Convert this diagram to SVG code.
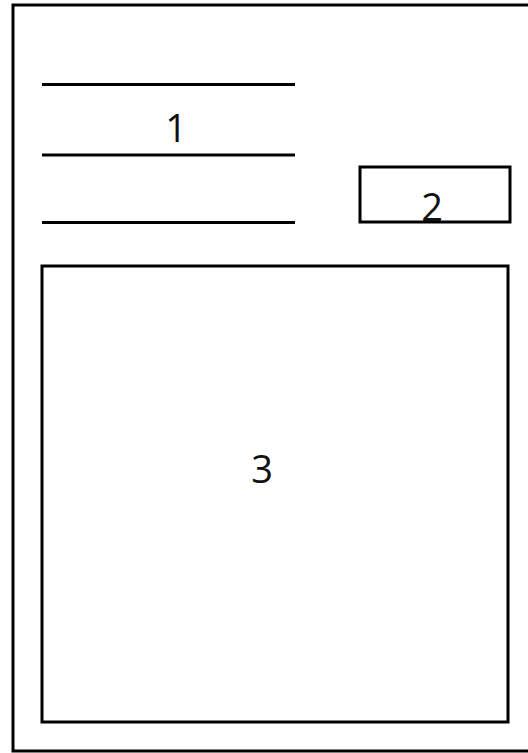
<svg xmlns="http://www.w3.org/2000/svg" width="528" height="753" viewBox="0 0 528 753">
  <style>
    .s { fill: none; stroke: #000; stroke-width: 3; }
    .t { font-family: "Open Sans", "Liberation Sans", sans-serif; font-size: 38px; fill: #111; text-anchor: middle; }
  </style>
  <rect x="0" y="0" width="528" height="753" fill="#fff"/>
  <g id="frame">
    <path class="s" d="M535,5 H13 V751 H535"/>
  </g>
  <g id="node1">
    <line class="s" x1="42" y1="84.5" x2="295" y2="84.5"/>
    <line class="s" x1="42" y1="155" x2="295" y2="155"/>
    <line class="s" x1="42" y1="222.5" x2="295" y2="222.5"/>
    <text class="t" x="176" y="142">1</text>
  </g>
  <g id="node2">
    <rect class="s" x="360" y="167" width="150" height="55"/>
    <text class="t" x="432" y="221">2</text>
  </g>
  <g id="node3">
    <rect class="s" x="42" y="266" width="466" height="456"/>
    <text class="t" x="262" y="483">3</text>
  </g>
  <g id="connectors"/>
</svg>
